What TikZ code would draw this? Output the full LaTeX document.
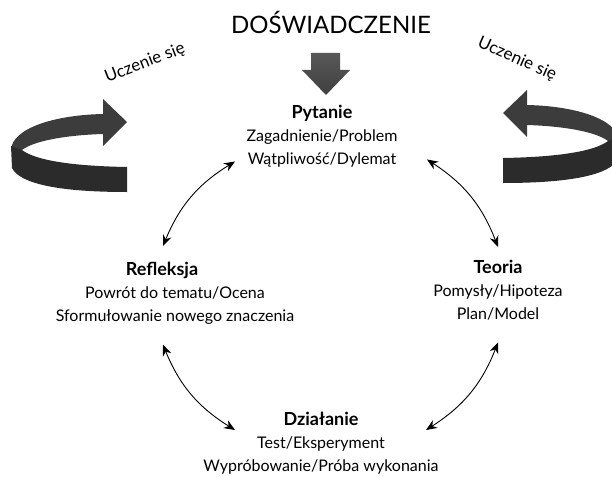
\documentclass[tikz,border=0pt]{standalone}
\usepackage{fontspec}
\setmainfont{Lato}
\usetikzlibrary{arrows.meta}

\definecolor{ribbonback}{HTML}{3C3C3C}
\definecolor{ribbonfront}{HTML}{2B2B2B}
\definecolor{blockgray}{HTML}{3A3A3A}

\newcommand{\hd}[1]{{\fontsize{18}{23}\selectfont\bfseries #1}}
% curled learning arrow, drawn in picture units
\newcommand{\learnribbon}{%
  \fill[ribbonback] (127,-122) -- (103,-99) -- (103,-114)
    .. controls (55,-115) and (12,-128) .. (11,-150)
    -- (22,-150) .. controls (35,-140) and (70,-135) .. (103,-134)
    -- (103,-146) -- cycle;
  \fill[ribbonfront] (11,-146) -- (12,-168)
    .. controls (20,-184) and (60,-192) .. (127,-192)
    -- (127,-167) .. controls (70,-166) and (35,-160) .. (22,-150)
    -- cycle;
}

\begin{document}
\begin{tikzpicture}[x=1pt, y=1pt,
  stage/.style={align=center, anchor=north, inner sep=0pt,
                font=\fontsize{16}{23}\selectfont},
  link/.style={line width=0.9pt,
               {Stealth[length=11pt,width=9pt]}-{Stealth[length=11pt,width=9pt]}},
  learn/.style={font=\fontsize{17}{20}\selectfont, inner sep=0pt}
]
  \clip (0,0) rectangle (612,-476);

  % experience on top
  \node[font=\fontsize{24}{28}\selectfont, anchor=base] (exp) at (331,-34) {DOŚWIADCZENIE};
  \shade[top color=blockgray!85, bottom color=blockgray!110!black]
    (311,-53) -- (340,-53) -- (340,-70) -- (350,-70) -- (326,-95)
    -- (302,-70) -- (311,-70) -- cycle;

  % four stages
  \node[stage] (pytanie) at (322,-105)
    {\hd{Pytanie}\\ Zagadnienie/Problem\\ Wątpliwość/Dylemat};
  \node[stage] (refleksja) at (175,-262)
    {\hd{Refleksja}\hspace*{26pt}\\ Powrót do tematu/Ocena\\ Sformułowanie nowego znaczenia};
  \node[stage] (teoria) at (498,-260)
    {\hd{Teoria}\\ Pomysły/Hipoteza\\ Plan/Model};
  \node[stage] (dzialanie) at (321,-412)
    {\hd{Działanie}\\ Test/Eksperyment\\ Wypróbowanie/Próba wykonania};

  \draw[link] ([shift={(-12,16)}]refleksja.north) to[bend left=18]
    ([shift={(-87,6)}]pytanie.south);
  \draw[link] ([shift={(105,8)}]pytanie.south) to[bend left=18]
    ([shift={(0,13)}]teoria.north);
  \draw[link] ([shift={(-12,-20)}]refleksja.south) to[bend right=18]
    ([shift={(-86,-18)}]dzialanie.north);
  \draw[link] ([shift={(0,-22)}]teoria.south) to[bend left=18]
    ([shift={(105,-18)}]dzialanie.north);

  % learning loops
  \learnribbon
  \begin{scope}[shift={(630,9)}, xscale=-1]
    \learnribbon
  \end{scope}
  \node[learn, rotate=21] (learnL) at (145,-63) {Uczenie się};
  \node[learn, rotate=-24] (learnR) at (517,-59) {Uczenie się};
\end{tikzpicture}
\end{document}
